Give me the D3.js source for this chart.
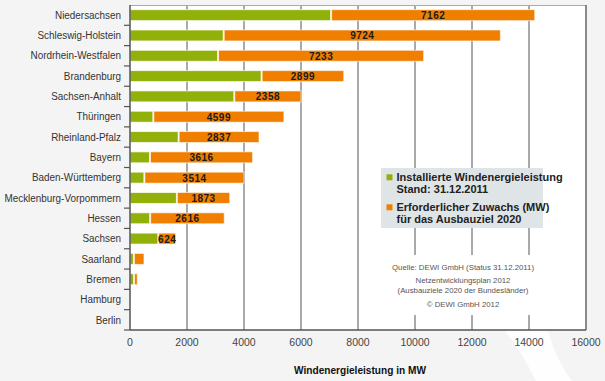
<!DOCTYPE html>
<html><head><meta charset="utf-8">
<script src="https://cdn.jsdelivr.net/npm/d3@7"></script>
<style>
html,body{margin:0;padding:0;background:#f4f4f4;}
svg{display:block;font-family:"Liberation Sans",Arial,sans-serif;}
</style></head>
<body>
<svg id="c" width="605" height="381"></svg>
<script>
const states = ["Niedersachsen","Schleswig-Holstein","Nordrhein-Westfalen","Brandenburg","Sachsen-Anhalt","Thüringen","Rheinland-Pfalz","Bayern","Baden-Württemberg","Mecklenburg-Vorpommern","Hessen","Sachsen","Saarland","Bremen","Hamburg","Berlin"];
const installed = [7039,3271,3071,4601,3642,801,1690,684,487,1627,690,976,120,125,0,0];
const additions = [7162,9724,7233,2899,2358,4599,2837,3616,3514,1873,2616,624,370,130,0,0];
const xTicks = [0,2000,4000,6000,8000,10000,12000,14000,16000];
const legendLabels = [["Installierte Windenergieleistung","Stand: 31.12.2011"],["Erforderlicher Zuwachs (MW)","für das Ausbauziel 2020"]];
const sourceLines = ["Quelle: DEWI GmbH (Status 31.12.2011)","Netzentwicklungsplan 2012","(Ausbauziele 2020 der Bundesländer)","© DEWI GmbH 2012"];
const axisTitle = "Windenergieleistung in MW";

const GREEN = "#92b00a", ORANGE = "#f07f00";
const svg = d3.select("#c");
const L = 130, R = 586, T = 5, B = 330;
const x = d3.scaleLinear().domain([0,16000]).range([L,R]);
const y = d3.scaleBand().domain(states).range([T,B]).paddingInner(0.46).paddingOuter(0.23);
const step = y.step();

// background swoosh
svg.append("rect").attr("width",605).attr("height",381).attr("fill","#f4f4f4");
svg.append("path").attr("d","M505,331 L548,331 Q556,360 572,381 L536,381 Q522,352 505,331Z").attr("fill","#ffffff").attr("opacity",0.85);

// plot area
svg.append("rect").attr("x",L).attr("y",T).attr("width",R-L).attr("height",B-T).attr("fill","#fff");

// gridlines
svg.append("g").selectAll("line").data(xTicks.filter(d=>d>0 && d<16000)).join("line")
  .attr("x1",d=>x(d)).attr("x2",d=>x(d)).attr("y1",T).attr("y2",B)
  .attr("stroke","#555").attr("stroke-width",1);

// borders
svg.append("line").attr("x1",L).attr("x2",R).attr("y1",T+0.5).attr("y2",T+0.5).attr("stroke","#aaa").attr("stroke-width",1);
svg.append("line").attr("x1",R).attr("x2",R).attr("y1",T).attr("y2",B).attr("stroke","#666").attr("stroke-width",1.5);

// bars
const rows = states.map((s,i)=>({s,g:installed[i],o:additions[i]}));
const bars = svg.append("g");
bars.selectAll("rect.g").data(rows.filter(d=>d.g>0)).join("rect").attr("class","g")
  .attr("x",x(0)).attr("y",d=>y(d.s)).attr("height",y.bandwidth())
  .attr("width",d=>x(d.g)-x(0)).attr("fill",GREEN).attr("stroke","#fff").attr("stroke-opacity",0.7).attr("stroke-width",1);
bars.selectAll("rect.o").data(rows.filter(d=>d.o>0)).join("rect").attr("class","o")
  .attr("x",d=>x(d.g)+1).attr("y",d=>y(d.s)).attr("height",y.bandwidth())
  .attr("width",d=>x(d.g+d.o)-x(d.g)-1).attr("fill",ORANGE).attr("stroke","#fff").attr("stroke-opacity",0.6).attr("stroke-width",1);
bars.selectAll("text").data(rows.filter(d=>d.o>=600)).join("text")
  .attr("x",d=>(x(d.g)+x(d.g+d.o))/2+0.5).attr("y",d=>y(d.s)+y.bandwidth()/2+0.5)
  .attr("text-anchor","middle").attr("dominant-baseline","central")
  .attr("font-size","10px").attr("font-weight","bold").attr("fill","#1a1a1a").attr("letter-spacing","0.5px")
  .text(d=>String(d.o));

// y axis
svg.append("line").attr("x1",L).attr("x2",L).attr("y1",T).attr("y2",B).attr("stroke","#555").attr("stroke-width",1.5);
svg.append("g").selectAll("line").data(d3.range(1,states.length+1)).join("line")
  .attr("x1",L-6).attr("x2",L).attr("y1",i=>T+i*step).attr("y2",i=>T+i*step)
  .attr("stroke","#555").attr("stroke-width",1.2);
svg.append("g").attr("transform","translate(121,0) scale(0.9,1)")
  .selectAll("text").data(states).join("text")
  .attr("x",0).attr("y",d=>y(d)+y.bandwidth()/2).attr("text-anchor","end").attr("dominant-baseline","central")
  .attr("font-size","11px").attr("fill","#333").text(d=>d);

// x axis
svg.append("line").attr("x1",L).attr("x2",R).attr("y1",B).attr("y2",B).attr("stroke","#555").attr("stroke-width",1.5);
svg.append("g").selectAll("text").data(xTicks).join("text")
  .attr("x",d=>x(d)).attr("y",342).attr("text-anchor","middle").attr("dominant-baseline","central")
  .attr("font-size","10.5px").attr("fill","#444").text(d=>String(d));
svg.append("g").attr("transform","translate(360,374) scale(0.88,1)")
  .append("text").attr("x",0).attr("y",0).attr("text-anchor","middle")
  .attr("font-size","11.5px").attr("font-weight","bold").attr("fill","#111").text(axisTitle);

// legend
const lg = svg.append("g");
lg.append("rect").attr("x",381).attr("y",168).attr("width",162).attr("height",60).attr("fill","#dfe4e7");
[GREEN,ORANGE].forEach((c,i)=>{
  const y0 = 174.3 + i*30;
  lg.append("rect").attr("x",386.5).attr("y",y0).attr("width",6).attr("height",6).attr("fill",c);
  legendLabels[i].forEach((t,j)=>{
    lg.append("text").attr("x",396.5).attr("y",y0+6.5+j*12.5).attr("font-size","11px").attr("font-weight","bold").attr("fill","#222").text(t);
  });
});

// source
svg.append("rect").attr("x",390).attr("y",255).attr("width",146).attr("height",60).attr("fill","#fff");
const srcY = [269.5,283,292.5,306.5];
svg.append("g").selectAll("text").data(sourceLines).join("text")
  .attr("x",463).attr("y",(d,i)=>srcY[i]).attr("text-anchor","middle")
  .attr("font-size","7.8px").attr("fill","#555").text(d=>d);
</script>
</body></html>
